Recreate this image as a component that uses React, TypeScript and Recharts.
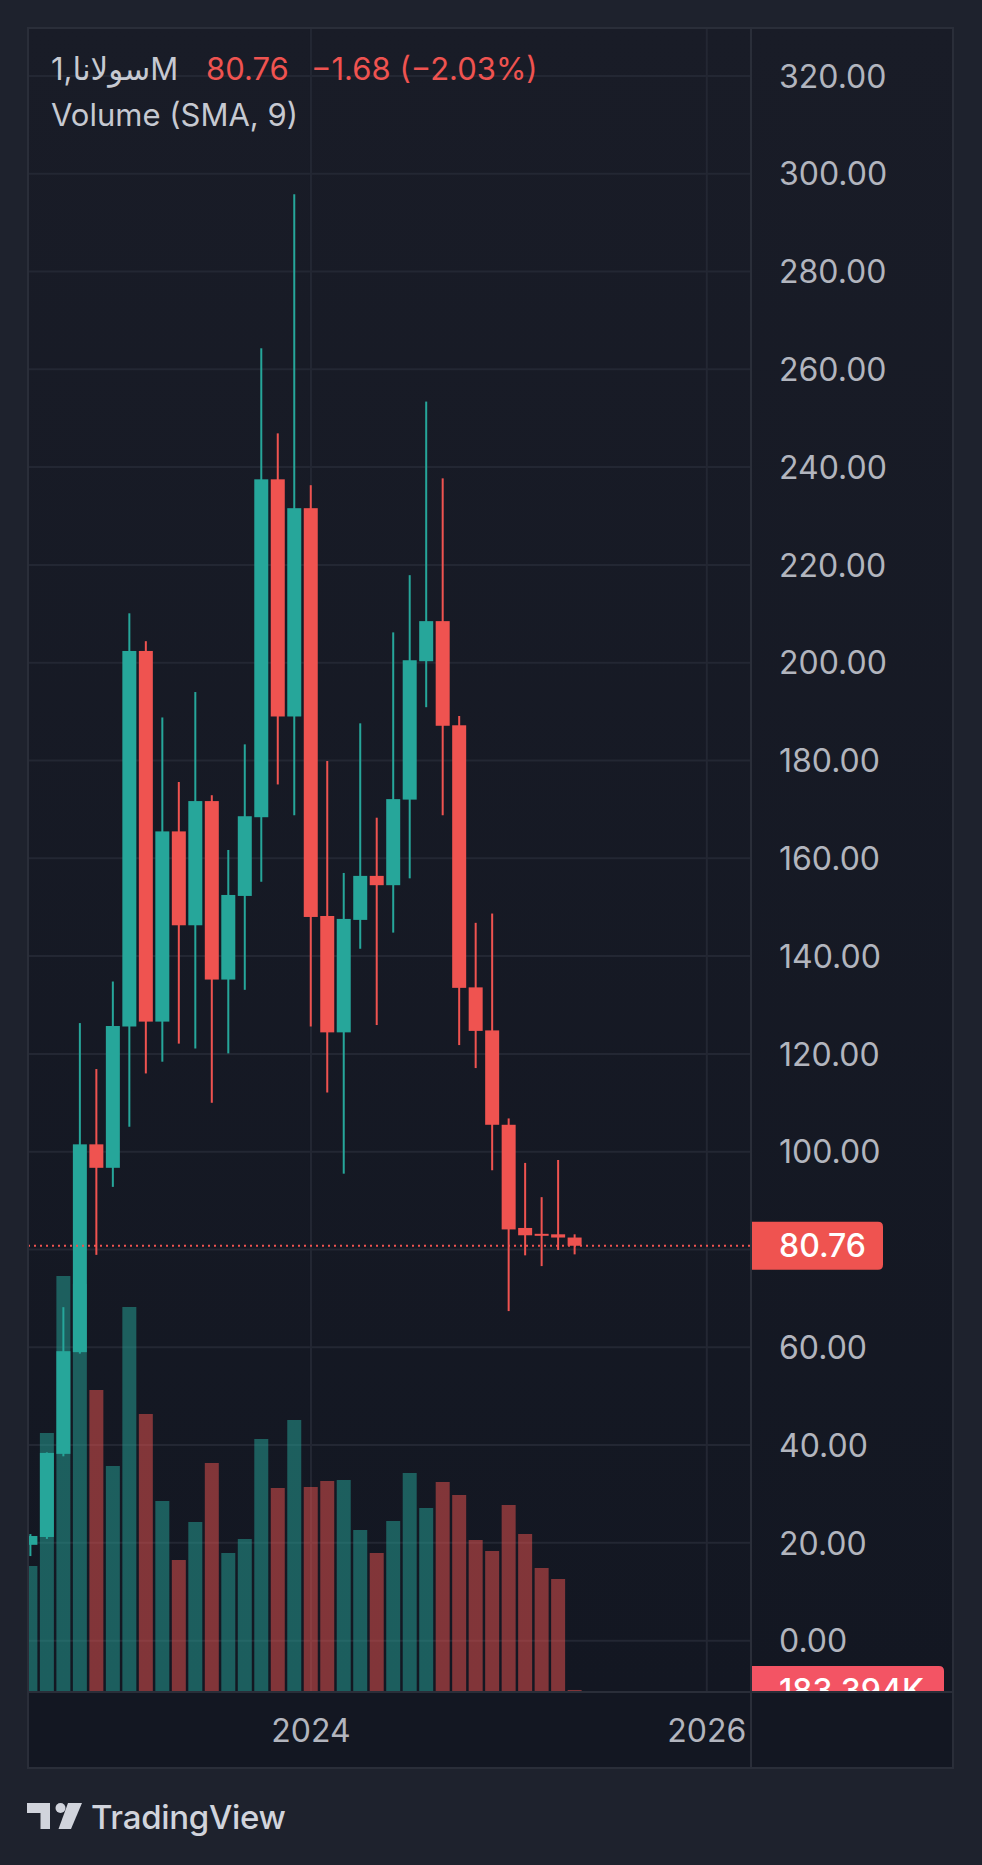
import React from 'react';
import { ComposedChart, Bar, XAxis, YAxis, CartesianGrid, ReferenceLine, Cell } from 'recharts';

// ---------- data ----------
const months = ['2022-08','2022-09','2022-10','2022-11','2022-12','2023-01','2023-02','2023-03','2023-04','2023-05','2023-06','2023-07','2023-08','2023-09','2023-10','2023-11','2023-12','2024-01','2024-02','2024-03','2024-04','2024-05','2024-06','2024-07','2024-08','2024-09','2024-10','2024-11','2024-12','2025-01','2025-02','2025-03','2025-04','2025-05'];
const opens  = [19.6,21.2,38.2,59.0,101.5,96.7,125.6,202.4,126.6,165.5,146.3,171.7,135.2,152.3,168.4,237.5,189.0,231.6,148.2,124.4,147.4,156.4,154.5,172.0,200.3,208.5,187.2,133.6,124.8,105.5,84.4,83.2,83.1,82.44];
const highs  = [21.8,38.5,68.2,126.3,116.9,134.8,210.1,204.4,188.8,175.6,194.0,172.9,161.7,183.3,264.3,246.9,295.8,236.3,179.9,157.0,187.6,168.3,206.2,217.9,253.4,237.7,189.1,146.8,148.7,106.8,97.7,90.7,98.3,83.1];
const lows   = [17.3,20.8,37.7,58.7,78.9,92.8,105.1,116.0,118.4,122.1,121.1,110.0,120.1,133.1,155.2,175.1,168.8,125.6,112.1,95.5,141.5,125.9,144.8,155.9,190.9,168.8,121.8,117.1,96.2,67.4,78.8,76.6,79.9,79.0];
const closes = [21.4,38.4,59.2,101.5,96.7,125.7,202.4,126.6,165.5,146.3,171.7,135.2,152.5,168.6,237.5,189.0,231.6,148.0,124.4,147.6,156.4,154.5,172.1,200.5,208.5,187.1,133.5,124.7,105.5,84.1,82.9,82.8,82.44,80.76];
// monthly volume, millions
const volumes = [11.34,23.31,37.44,36.72,27.18,20.34,34.65,25.02,17.19,11.88,15.30,20.61,12.51,13.77,22.77,18.36,24.48,18.45,18.99,19.08,14.58,12.51,15.39,19.71,16.56,18.90,17.73,13.68,12.69,16.83,14.22,11.16,10.17,0.183394];

const priceTicks = [0,20,40,60,80,100,120,140,160,180,200,220,240,260,280,300,320];
const yearTicks = [24, 48]; // months since Jan 2022
const yearLabels: Record<number, string> = { 24: '2024', 48: '2026' };

const titleText = '1,سولاناM';
const lastPriceText = '80.76';
const changeText = '\u22121.68 (\u22122.03%)';
const volumeTitle = 'Volume (SMA, 9)';
const lastVolumeText = '183.394K';

// ---------- styles ----------
const FONT = "Inter, 'DejaVu Sans', sans-serif";
const UP = '#26a69a';
const DOWN = '#ef5350';
const UP_VOL = 'rgba(38,166,154,0.5)';
const DOWN_VOL = 'rgba(239,83,80,0.5)';
const AXIS_TEXT = '#b2b5be';
const TITLE_TEXT = '#c6c9d1';
const BORDER = '#2a2e39';
const GRID = '#232733';
const AXIS_FS = 32;

const W = 982;
const H = 1865;
const PLOT_BOTTOM = 1692;

const monthIndex = (s: string) => {
  const [y, m] = s.split('-').map(Number);
  return (y - 2022) * 12 + (m - 1);
};

const data = months.map((m, i) => ({
  t: monthIndex(m),
  open: opens[i],
  high: highs[i],
  low: lows[i],
  close: closes[i],
  range: [lows[i], highs[i]],
  volume: volumes[i],
}));

const lastClose = closes[closes.length - 1];
const lastVolume = volumes[volumes.length - 1];

const CandleShape = (props: any) => {
  const { x, y, width, height, payload } = props;
  if (x == null || y == null) return null;
  const { open, close, high, low } = payload;
  const color = close >= open ? UP : DOWN;
  const top = Math.min(y, y + height);
  const h = Math.abs(height);
  const span = high - low;
  const toY = (v: number) => top + (span === 0 ? 0 : ((high - v) / span) * h);
  const bTop = toY(Math.max(open, close));
  const bBot = toY(Math.min(open, close));
  const cx = x + width / 2;
  const bodyW = 14;
  return (
    <g>
      <rect x={cx - 1} y={top} width={2} height={Math.max(h, 1)} fill={color} />
      <rect x={cx - bodyW / 2} y={bTop} width={bodyW} height={Math.max(bBot - bTop, 2)} fill={color} />
    </g>
  );
};

// tick labels hidden behind the last-price label (as on the price scale)
const PriceTick = (props: any) => {
  const { x, y, payload } = props;
  const v = Number(payload.value);
  if (Math.abs(v - lastClose) < 8) return <g />;
  return (
    <text x={x} y={y} dy={AXIS_FS * 0.364} fill={AXIS_TEXT} fontSize={AXIS_FS} fontFamily={FONT} textAnchor="start">
      {v.toFixed(2)}
    </text>
  );
};

const YearTick = (props: any) => {
  const { x, y, payload } = props;
  return (
    <text x={x} y={y} dy={AXIS_FS * 0.364} fill={AXIS_TEXT} fontSize={AXIS_FS} fontFamily={FONT} textAnchor="middle">
      {yearLabels[payload.value] ?? ''}
    </text>
  );
};

const boxPath = (x0: number, cy: number, w: number, hh: number, r: number) =>
  `M${x0},${cy - hh} H${x0 + w - r} Q${x0 + w},${cy - hh} ${x0 + w},${cy - hh + r} V${cy + hh - r} Q${x0 + w},${cy + hh} ${x0 + w - r},${cy + hh} H${x0} Z`;

// dotted last-price line plus its axis label
const PriceLineShape = (props: any) => {
  const { x1, y1, x2 } = props;
  if (x1 == null || y1 == null || x2 == null) return null;
  const x0 = Math.max(x1, x2);
  return (
    <g>
      <line x1={Math.min(x1, x2)} y1={y1} x2={x0} y2={y1} stroke={DOWN} strokeWidth={2} strokeDasharray="2 4" />
      <path d={boxPath(x0, y1, 132, 24, 5)} fill={DOWN} />
      <text x={x0 + 28} y={y1} dy={AXIS_FS * 0.364} fill="#ffffff" fontSize={AXIS_FS} fontWeight={500} fontFamily={FONT}>
        {lastPriceText}
      </text>
    </g>
  );
};

const VolumeLineShape = (props: any) => {
  const { x1, y1, x2 } = props;
  if (x1 == null || y1 == null || x2 == null) return null;
  const x0 = Math.max(x1, x2);
  return (
    <g>
      <defs>
        <clipPath id="volLabelClip">
          <rect x={x0} y={0} width={200} height={PLOT_BOTTOM - 1} />
        </clipPath>
      </defs>
      <g clipPath="url(#volLabelClip)">
        <path d={boxPath(x0, y1, 193, 24, 5)} fill="#f35464" />
        <text x={x0 + 28} y={y1} dy={AXIS_FS * 0.364} fill="#ffffff" fontSize={AXIS_FS} fontWeight={500} fontFamily={FONT}>
          {lastVolumeText}
        </text>
      </g>
    </g>
  );
};

export default function App() {
  return (
    <div style={{ position: 'absolute', left: 0, top: 0, width: W, height: H, background: '#1e222d', overflow: 'hidden' }}>
      <div style={{ position: 'absolute', left: 28, top: 28, width: 925, height: PLOT_BOTTOM - 28, background: 'linear-gradient(#191c27, #131722)' }} />
      <div style={{ position: 'absolute', left: 28, top: PLOT_BOTTOM, width: 925, height: 76, background: '#131722' }} />
      <div style={{ position: 'absolute', left: 0, top: 0 }}>
        <ComposedChart width={W} height={H} data={data} margin={{ top: 28, right: 29, bottom: 97, left: 28 }}>
          <CartesianGrid xAxisId="p" yAxisId="price" stroke={GRID} strokeWidth={2} />
          <XAxis
            xAxisId="p"
            type="number"
            dataKey="t"
            domain={[6.84, 50.68]}
            allowDataOverflow
            ticks={yearTicks}
            interval={0}
            height={76}
            axisLine={false}
            tickLine={false}
            tickSize={0}
            tickMargin={38}
            tick={(p: any) => <YearTick {...p} />}
          />
          <XAxis xAxisId="v" type="number" dataKey="t" domain={[6.84, 50.68]} allowDataOverflow hide />
          <YAxis
            yAxisId="price"
            orientation="right"
            type="number"
            domain={[-10.5, 329.8]}
            allowDataOverflow
            ticks={priceTicks}
            interval={0}
            width={202}
            axisLine={false}
            tickLine={false}
            tickSize={0}
            tickMargin={28}
            tick={(p: any) => <PriceTick {...p} />}
          />
          <YAxis yAxisId="vol" type="number" domain={[0, 149.76]} allowDataOverflow hide />
          <Bar xAxisId="v" yAxisId="vol" dataKey="volume" barSize={14} isAnimationActive={false}>
            {data.map((d, i) => (
              <Cell key={i} fill={d.close >= d.open ? UP_VOL : DOWN_VOL} />
            ))}
          </Bar>
          <Bar xAxisId="p" yAxisId="price" dataKey="range" barSize={14} isAnimationActive={false} shape={(p: any) => <CandleShape {...p} />} />
          <ReferenceLine
            xAxisId="p"
            yAxisId="price"
            y={lastClose}
            stroke={DOWN}
            shape={(p: any) => <PriceLineShape {...p} />}
          />
          <ReferenceLine
            xAxisId="v"
            yAxisId="vol"
            y={lastVolume}
            stroke="none"
            shape={(p: any) => <VolumeLineShape {...p} />}
          />
        </ComposedChart>
      </div>
      <svg width={W} height={H} style={{ position: 'absolute', left: 0, top: 0, pointerEvents: 'none' }}>
        <rect x={28} y={28} width={925} height={1740} fill="none" stroke={BORDER} strokeWidth={2} />
        <line x1={751} y1={28} x2={751} y2={1768} stroke={BORDER} strokeWidth={2} />
        <line x1={28} y1={PLOT_BOTTOM} x2={953} y2={PLOT_BOTTOM} stroke={BORDER} strokeWidth={2} />
        <text x={51} y={80} fill={TITLE_TEXT} fontSize={31} fontFamily={FONT}>{titleText}</text>
        <text x={206} y={80} fill={DOWN} fontSize={31} fontFamily={FONT}>{lastPriceText}</text>
        <text x={311} y={80} fill={DOWN} fontSize={31} fontFamily={FONT}>{changeText}</text>
        <text x={51} y={126} fill={TITLE_TEXT} fontSize={31} fontFamily={FONT}>{volumeTitle}</text>
        <g fill="#d1d4dc">
          <rect x={27} y={1803} width={23} height={10} />
          <rect x={40.5} y={1803} width={9.5} height={26} />
          <circle cx={60.5} cy={1808} r={5} />
          <polygon points="68,1803 82,1803 71,1829 58.5,1829" />
          <text x={91} y={1829} fontSize={33} fontWeight={500} fontFamily={FONT} letterSpacing={-0.3}>TradingView</text>
        </g>
      </svg>
    </div>
  );
}
